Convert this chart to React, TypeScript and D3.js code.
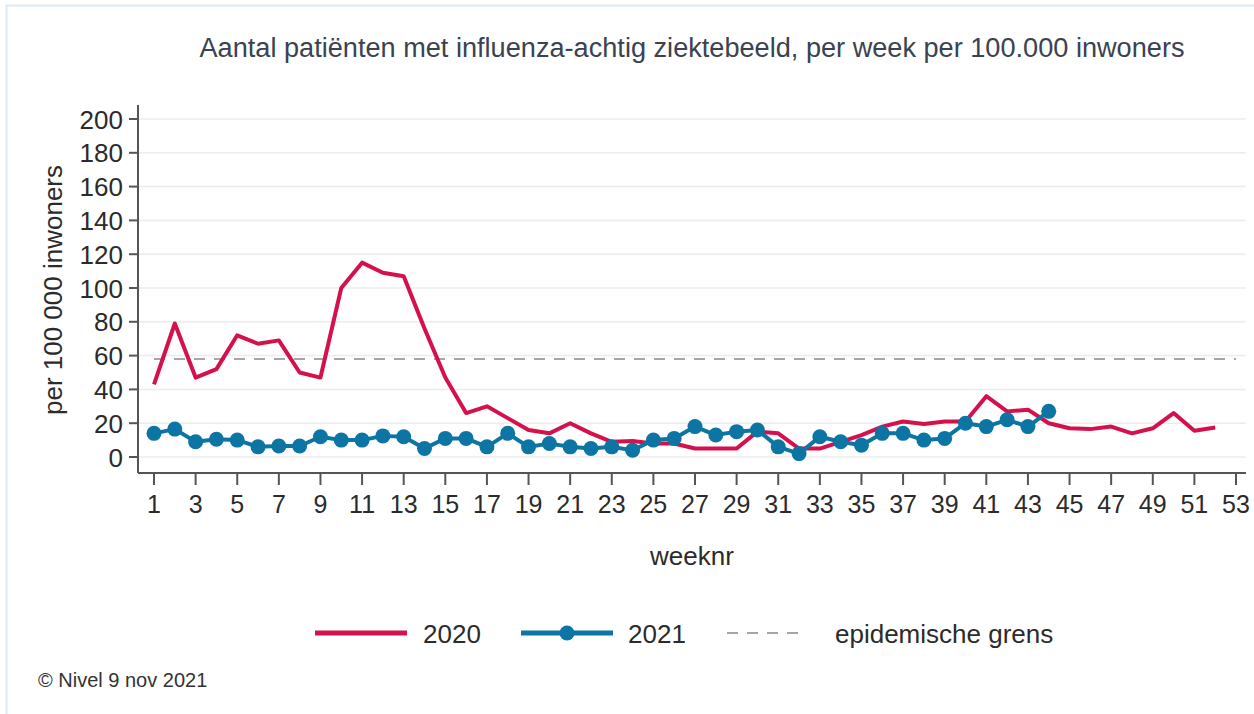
import React from "react";
import * as d3 from "d3";

const weeks2020 = d3.range(1, 53);
const values2020 = [43, 79, 47, 52, 72, 67, 69, 50, 47, 100, 115, 109, 107, 76, 47, 26, 30, 23, 16, 14, 20, 14, 9, 9.5, 8, 8, 5, 5, 5, 15, 14, 5, 5, 9, 13, 18, 21, 19.5, 21, 21, 36, 27, 28, 20, 17, 16.5, 18, 14, 17, 26, 15.5, 17.5];
const weeks2021 = d3.range(1, 45);
const values2021 = [14, 16.5, 9, 10.5, 10, 6, 6.5, 6.5, 12, 10, 10, 12.5, 12, 5, 11, 11, 6, 14, 6, 8, 6, 5, 6, 4, 10, 11, 18, 13, 15, 16, 6, 2, 12, 9, 7, 14, 14, 10, 11, 20, 18, 22, 18, 27];
const epidemicThreshold = 58;
const yTicks = [0, 20, 40, 60, 80, 100, 120, 140, 160, 180, 200];
const xTicks = d3.range(1, 54, 2);

const TITLE = "Aantal patiënten met influenza-achtig ziektebeeld, per week per 100.000 inwoners";
const Y_LABEL = "per 100 000 inwoners";
const X_LABEL = "weeknr";
const LEGEND = ["2020", "2021", "epidemische grens"];
const CREDIT = "© Nivel 9 nov 2021";

const RED = "#d5114d";
const BLUE = "#0c75a3";
const FONT = "'Liberation Sans', Arial, sans-serif";
const TEXT = "#2b2b2b";

export default function App() {
  const W = 1254, H = 714;
  const x = d3.scaleLinear().domain([1, 53]).range([154, 1236]);
  const y = d3.scaleLinear().domain([0, 200]).range([457, 119]);
  const axisX0 = 138, axisX1 = 1246, axisY = 473, axisTop = 105;

  const line = d3.line<[number, number]>().x(d => x(d[0])).y(d => y(d[1]));
  const d2020 = line(weeks2020.map((w, i) => [w, values2020[i]]));
  const d2021 = line(weeks2021.map((w, i) => [w, values2021[i]]));

  return (
    <svg width={W} height={H} style={{ position: "absolute", left: 0, top: 0, background: "#fff" }} fontFamily={FONT}>
      <rect x={6.5} y={5.5} width={W - 4} height={H} fill="#fff" stroke="#dce9f4" strokeWidth={2} />
      <text x={692} y={57} textAnchor="middle" fontSize={27} fill="#3b4250" textLength={985} lengthAdjust="spacingAndGlyphs">{TITLE}</text>

      {yTicks.map(t => (
        <line key={"g" + t} x1={axisX0} x2={axisX1} y1={y(t)} y2={y(t)} stroke="#ececec" strokeWidth={1.5} />
      ))}

      <line x1={x(1)} x2={x(53)} y1={y(epidemicThreshold)} y2={y(epidemicThreshold)} stroke="#a6a6a6" strokeWidth={2} strokeDasharray="11,9" />

      <line x1={axisX0} x2={axisX0} y1={axisTop} y2={axisY} stroke="#555" strokeWidth={2} />
      <line x1={axisX0} x2={axisX1} y1={axisY} y2={axisY} stroke="#555" strokeWidth={2} />
      {yTicks.map(t => (
        <g key={"y" + t}>
          <line x1={axisX0 - 9} x2={axisX0} y1={y(t)} y2={y(t)} stroke="#555" strokeWidth={2} />
          <text x={axisX0 - 15} y={y(t) + 9.5} textAnchor="end" fontSize={26} fill={TEXT}>{t}</text>
        </g>
      ))}
      {xTicks.map(t => (
        <g key={"x" + t}>
          <line x1={x(t)} x2={x(t)} y1={axisY} y2={axisY + 12} stroke="#555" strokeWidth={2} />
          <text x={x(t)} y={513} textAnchor="middle" fontSize={25} fill={TEXT}>{t}</text>
        </g>
      ))}
      <text x={692} y={565} textAnchor="middle" fontSize={26} fill={TEXT}>{X_LABEL}</text>
      <text transform={`translate(62,290) rotate(-90)`} textAnchor="middle" fontSize={26} fill={TEXT}>{Y_LABEL}</text>

      <path d={d2020 || ""} fill="none" stroke={RED} strokeWidth={4} strokeLinejoin="round" />
      <path d={d2021 || ""} fill="none" stroke={BLUE} strokeWidth={4} strokeLinejoin="round" />
      {weeks2021.map((w, i) => (
        <circle key={"c" + w} cx={x(w)} cy={y(values2021[i])} r={7.5} fill={BLUE} />
      ))}

      <line x1={315} x2={407} y1={633} y2={633} stroke={RED} strokeWidth={5} />
      <text x={423} y={643} fontSize={26} fill={TEXT}>{LEGEND[0]}</text>
      <line x1={521} x2={613} y1={633} y2={633} stroke={BLUE} strokeWidth={5} />
      <circle cx={567} cy={633} r={7.5} fill={BLUE} />
      <text x={628} y={643} fontSize={26} fill={TEXT}>{LEGEND[1]}</text>
      <line x1={727} x2={805} y1={633} y2={633} stroke="#a6a6a6" strokeWidth={2} strokeDasharray="11,9" />
      <text x={835} y={643} fontSize={26} fill={TEXT}>{LEGEND[2]}</text>

      <text x={38} y={687} fontSize={20} fill="#333">{CREDIT}</text>
    </svg>
  );
}
